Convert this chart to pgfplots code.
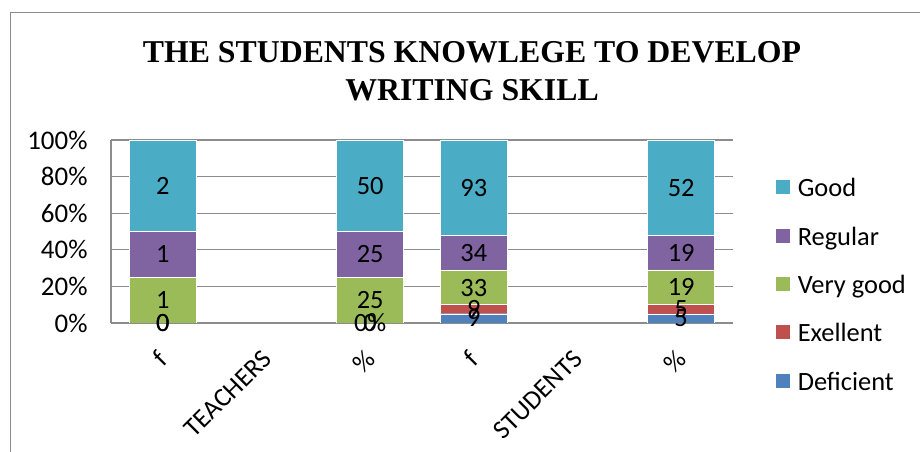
\documentclass[border=0pt]{standalone}
\usepackage{pgfplots}
\pgfplotsset{compat=1.18}
\usepackage{fontspec}
\setmainfont{Carlito}
\newfontfamily\titlefont{Liberation Serif}
\definecolor{cGood}{HTML}{4BACC6}
\definecolor{cReg}{HTML}{8064A2}
\definecolor{cVG}{HTML}{9BBB59}
\definecolor{cExe}{HTML}{C0504D}
\definecolor{cDef}{HTML}{4F81BD}
\definecolor{cGrid}{HTML}{8C8C8C}
\newcommand{\lblfont}{\fontsize{26.5}{30}\selectfont}
\newcommand{\ytfont}{\fontsize{27}{30}\selectfont}
\pgfplotsset{
  common/.style={
    at={(111bp,129bp)}, anchor=south west,
    scale only axis, width=622bp, height=183bp,
    xmin=-0.5, xmax=5.5, ymin=0, ymax=100,
  }
}
\begin{document}
\begin{tikzpicture}
\path[use as bounding box] (0bp,0bp) rectangle (920bp,452bp);
\draw[cGrid, line width=1bp] (10bp,0bp) -- (10bp,439bp) -- (920bp,439bp);
\node[font=\titlefont\bfseries\fontsize{31.9}{38}\selectfont, anchor=base] at (472bp,389bp) {THE STUDENTS KNOWLEGE TO DEVELOP};
\node[font=\titlefont\bfseries\fontsize{31.9}{38}\selectfont, anchor=base] at (472bp,351bp) {WRITING SKILL};
\begin{axis}[
  common,
  ybar stacked, bar width=67bp,
  xtick={0,1,2,3,4,5},
  xticklabels={f,TEACHERS,\%,f,STUDENTS,\%},
  xticklabel style={xshift=-6bp, yshift=-24bp, rotate=45, anchor=north east, font=\lblfont, inner sep=1bp},
  ytick={0,20,40,60,80,100},
  yticklabels={0\%,20\%,40\%,60\%,80\%,100\%},
  yticklabel style={font=\ytfont, xshift=-20bp},
  ymajorgrids, grid style={cGrid, line width=1.2bp},
  axis x line*=bottom, axis y line*=left,
  axis line style={cGrid, line width=1.2bp},
  major tick length=0pt,
  legend style={draw=none, at={(1.063,0.812)}, anchor=north west, font=\lblfont,
    row sep=24.5bp, /tikz/every odd column/.append style={column sep=5bp}},
  legend cell align=left,
  reverse legend,
  legend image code/.code={\fill[#1] (0bp,-6bp) rectangle (15bp,9bp);},
]
\addplot[fill=cDef, draw=white, line width=0.4bp] coordinates {(0,0) (2,0) (3,5.056) (5,5)};
\addlegendentry{Deficient}
\addplot[fill=cExe, draw=white, line width=0.4bp] coordinates {(0,0) (2,0) (3,5.056) (5,5)};
\addlegendentry{Exellent}
\addplot[fill=cVG, draw=white, line width=0.4bp] coordinates {(0,25) (2,25) (3,18.54) (5,19)};
\addlegendentry{Very good}
\addplot[fill=cReg, draw=white, line width=0.4bp] coordinates {(0,25) (2,25) (3,19.10) (5,19)};
\addlegendentry{Regular}
\addplot[fill=cGood, draw=white, line width=0.4bp] coordinates {(0,50) (2,50) (3,52.25) (5,52)};
\addlegendentry{Good}
\end{axis}
% data labels, drawn on top of all bars
\begin{axis}[
  common,
  hide axis,
  point meta=explicit symbolic,
  nodes near coords,
  every node near coord/.append style={font=\lblfont, anchor=center, black, inner sep=0pt},
]
\addplot[only marks, mark=none] table[meta=label] {
x y label
0 0 0
2 0 0
3 2.528 9
5 2.5 5
};
\addplot[only marks, mark=none] table[meta=label] {
x y label
0 0 0
2 0 0\%
3 7.584 9
5 7.5 5
};
\addplot[only marks, mark=none] table[meta=label] {
x y label
0 12.5 1
2 12.5 25
3 19.382 33
5 19.5 19
};
\addplot[only marks, mark=none] table[meta=label] {
x y label
0 37.5 1
2 37.5 25
3 38.202 34
5 38.5 19
};
\addplot[only marks, mark=none] table[meta=label] {
x y label
0 75 2
2 75 50
3 73.876 93
5 74 52
};
\end{axis}
\end{tikzpicture}
\end{document}
